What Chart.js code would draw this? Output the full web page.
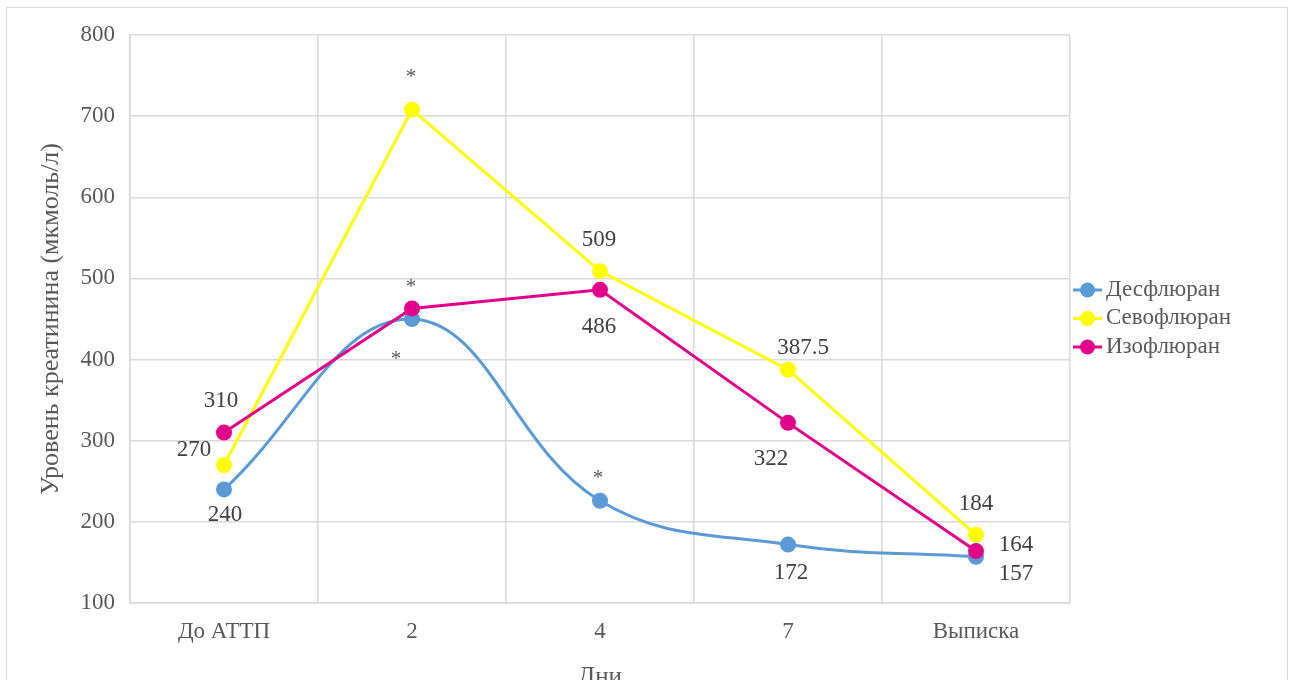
<!DOCTYPE html>
<html>
<head>
<meta charset="utf-8">
<script src="https://cdn.jsdelivr.net/npm/chart.js@4"></script>
<style>
  html, body { margin: 0; padding: 0; background: #fff; }
  #wrap { position: relative; width: 1294px; height: 680px; }
</style>
</head>
<body>
<div id="wrap"><canvas id="chart" width="1294" height="680"></canvas></div>
<script>
// Data
const days = ['До АТТП', '2', '4', '7', 'Выписка'];
const desflurane = [240, 450, 226, 172, 157];
const sevoflurane = [270, 708, 509, 387.5, 184];
const isoflurane = [310, 463, 486, 322, 164];
const seriesNames = ['Десфлюран', 'Севофлюран', 'Изофлюран'];
const yTicks = [100, 200, 300, 400, 500, 600, 700, 800];

const FONT = '"Liberation Serif", "Times New Roman", serif';
const colors = ['#5b9bd5', '#ffff00', '#e2008a'];

// which values get a number label / an asterisk, and where (offset from the point)
const valueLabels = [
  [[0, 1, 24], [3, 3, 27], [4, 40, 16]],
  [[0, -30, -17], [2, -1, -33], [3, 15, -23], [4, 0, -32]],
  [[0, -3, -33], [2, -1, 36], [3, -17, 35], [4, 40, -8]]
];
const stars = [
  [0, 1, -16, 36], [0, 2, -2, -27],
  [1, 1, -1, -37],
  [2, 1, -1, -25]
];

function centeredText(ctx, txt, x, y) {
  const m = ctx.measureText(txt);
  const a = m.actualBoundingBoxAscent, d = m.actualBoundingBoxDescent;
  ctx.fillText(txt, x, y + (a - d) / 2);
}

const annotations = {
  id: 'annotations',
  beforeDraw(chart) {
    const ctx = chart.ctx;
    ctx.save();
    ctx.strokeStyle = '#d9d9d9';
    ctx.lineWidth = 1;
    ctx.strokeRect(6.5, 7.5, 1281, 700);
    ctx.restore();
  },
  afterDatasetsDraw(chart) {
    const ctx = chart.ctx;
    ctx.save();
    ctx.textAlign = 'center';
    ctx.textBaseline = 'alphabetic';
    ctx.fillStyle = '#404040';
    ctx.font = '23px ' + FONT;
    valueLabels.forEach((list, di) => {
      const meta = chart.getDatasetMeta(di);
      const vals = chart.data.datasets[di].data;
      list.forEach(([i, dx, dy]) => {
        const p = meta.data[i];
        centeredText(ctx, String(vals[i]), p.x + dx, p.y + dy);
      });
    });
    ctx.fillStyle = '#595959';
    ctx.font = '21px ' + FONT;
    stars.forEach(([di, i, dx, dy]) => {
      const p = chart.getDatasetMeta(di).data[i];
      centeredText(ctx, '*', p.x + dx, p.y + dy);
    });

    // legend
    const lx = 1073, ly = 290, step = 28.5;
    ctx.font = '23px ' + FONT;
    ctx.textAlign = 'left';
    seriesNames.forEach((name, k) => {
      const y = ly + k * step;
      ctx.strokeStyle = colors[k];
      ctx.lineWidth = 3;
      ctx.beginPath();
      ctx.moveTo(lx, y);
      ctx.lineTo(lx + 29, y);
      ctx.stroke();
      ctx.fillStyle = colors[k];
      ctx.beginPath();
      ctx.arc(lx + 14.5, y, 7.5, 0, Math.PI * 2);
      ctx.fill();
      ctx.fillStyle = '#595959';
      centeredText(ctx, name, lx + 33, y);
    });
    ctx.restore();
  }
};

function ds(label, data, color, order, tension) {
  return {
    label: label,
    data: data,
    borderColor: color,
    backgroundColor: color,
    pointBackgroundColor: color,
    pointBorderColor: color,
    borderWidth: 3,
    pointRadius: 6.5,
    pointHoverRadius: 6.5,
    tension: tension,
    order: order
  };
}

const chart = new Chart(document.getElementById('chart'), {
  type: 'line',
  data: {
    labels: days,
    datasets: [
      ds(seriesNames[0], desflurane, colors[0], 2, 0.4),
      ds(seriesNames[1], sevoflurane, colors[1], 1, 0),
      ds(seriesNames[2], isoflurane, colors[2], 0, 0)
    ]
  },
  options: {
    responsive: false,
    animation: false,
    layout: { padding: { left: 8, top: 35, right: 224, bottom: 0 } },
    plugins: {
      legend: { display: false },
      tooltip: { enabled: false }
    },
    scales: {
      x: {
        offset: true,
        grid: { offset: true, color: '#d9d9d9', lineWidth: 1.5, drawTicks: false },
        border: { color: '#d9d9d9', width: 1.5 },
        ticks: { color: '#595959', font: { family: FONT, size: 23 }, padding: 15, maxRotation: 0 },
        title: { display: true, text: 'Дни', color: '#595959', font: { family: FONT, size: 25 }, padding: { top: 0, bottom: -12 } },
        afterFit(scale) { scale.height = 77; }
      },
      y: {
        min: yTicks[0],
        max: yTicks[yTicks.length - 1],
        afterBuildTicks(scale) { scale.ticks = yTicks.map(v => ({ value: v })); },
        grid: { color: '#d9d9d9', lineWidth: 1.5, drawTicks: false },
        border: { color: '#d9d9d9', width: 1.5 },
        ticks: { color: '#595959', font: { family: FONT, size: 23 }, padding: 15 },
        title: { display: true, text: 'Уровень креатинина (мкмоль/л)', color: '#595959', font: { family: FONT, size: 26 }, padding: { top: 28, bottom: 0 } },
        afterFit(scale) { scale.width = 122; }
      }
    }
  },
  plugins: [annotations]
});
</script>
</body>
</html>
